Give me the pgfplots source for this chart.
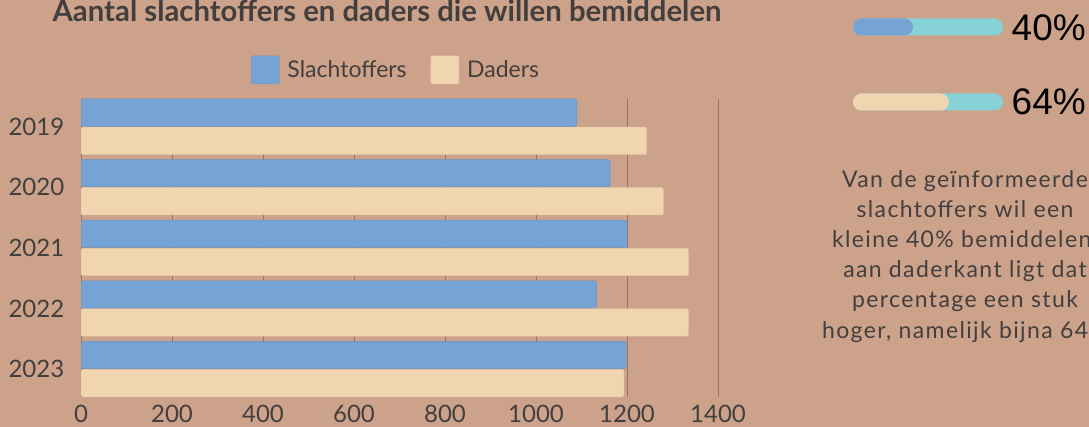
\documentclass[border=0pt]{standalone}
\usepackage{fontspec}
\setmainfont{Lato}
\newfontfamily\arialfont{Liberation Sans}
\newfontfamily\parafont[LetterSpace=6]{Lato}
\usepackage{pgfplots}
\pgfplotsset{compat=1.18}
\definecolor{bg}{RGB}{205,162,138}
\definecolor{blueb}{RGB}{117,163,212}
\definecolor{creamb}{RGB}{240,213,176}
\definecolor{txt}{RGB}{66,63,62}
\definecolor{gridc}{RGB}{150,116,102}
\definecolor{cyanb}{RGB}{135,210,215}
\begin{document}
\begin{tikzpicture}[x=1pt,y=1pt]
\clip (0,0) rectangle (1089,-427);
\fill[bg] (0,0) rectangle (1089,-427);
\begin{axis}[
  at={(81pt,-397pt)}, anchor=south west, scale only axis,
  width=637pt, height=298.2pt,
  xbar, xmin=0, xmax=1400, ymin=-0.46, ymax=4.46, y dir=reverse,
  ytick={0,1,2,3,4}, yticklabels={2019,2020,2021,2022,2023},
  xtick={0,200,400,600,800,1000,1200,1400},
  xmajorgrids, grid style={gridc, line width=1pt},
  axis line style={draw=none}, major tick style={draw=none},
  tick label style={font=\fontsize{24}{28}\selectfont, text=txt},
  xticklabel style={inner sep=1pt, yshift=-6.5pt},
  yticklabel style={xshift=-9pt},
  /pgf/number format/assume math mode=true,
  /pgf/number format/set thousands separator={},
  bar width=0.45,
  legend columns=2,
  legend style={at={(0.4945,1.097)}, anchor=center, draw=none, fill=none,
    text=txt, font=\fontsize{23}{27}\selectfont,
    /tikz/every odd column/.append style={column sep=6pt},
    /tikz/every even column/.append style={column sep=22pt}},
  legend image code/.code={\fill[#1] (0pt,-14pt) rectangle (28pt,14pt);},
]
\addplot[fill=blueb, draw=blueb!90!black, line width=0.5pt, bar shift=-0.232, rounded corners=1.5pt]
  coordinates {(1090,0) (1163,1) (1200,2) (1133,3) (1198,4)};
\addlegendentry{Slachtoffers}
\addplot[fill=creamb, draw=creamb!95!black, line width=0.5pt, bar shift=0.232, rounded corners=1.5pt]
  coordinates {(1243,0) (1280,1) (1335,2) (1335,3) (1193,4)};
\addlegendentry{Daders}
\end{axis}
\begin{axis}[
  at={(853pt,-12pt)}, anchor=north west, scale only axis,
  width=150pt, height=105pt, xmin=0, xmax=100, ymin=-0.2, ymax=1.2, y dir=reverse,
  hide axis, xbar, bar width=17pt, bar shift=0pt, clip=false]
\addplot[fill=cyanb, draw=none, rounded corners=8.5pt] coordinates {(100,0) (100,1)};
\addplot[fill=blueb, draw=none, rounded corners=8.5pt] coordinates {(40,0)};
\addplot[fill=creamb, draw=none, rounded corners=8.5pt] coordinates {(64,1)};
\end{axis}
\node[anchor=base, font=\bfseries\fontsize{29.3}{32}\selectfont, text=txt, inner sep=0] at (387,-22) {Aantal slachtoffers en daders die willen bemiddelen};
\node[anchor=base west, font=\arialfont\fontsize{37}{40}\selectfont, inner sep=0] at (1011.5,-40.5) {40\%};
\node[anchor=base west, font=\arialfont\fontsize{37}{40}\selectfont, inner sep=0] at (1011.5,-115) {64\%};
\begin{scope}[every node/.style={anchor=base, inner sep=0, text=txt, font=\parafont\fontsize{23}{30}\selectfont}]
\node at (965,-188) {Van de geïnformeerde};
\node at (965,-218) {slachtoffers wil een};
\node at (965,-248) {kleine 40\% bemiddelen,};
\node at (965,-278) {aan daderkant ligt dat};
\node at (965,-308) {percentage een stuk};
\node at (965,-338) {hoger, namelijk bijna 64\%};
\end{scope}
\end{tikzpicture}
\end{document}
